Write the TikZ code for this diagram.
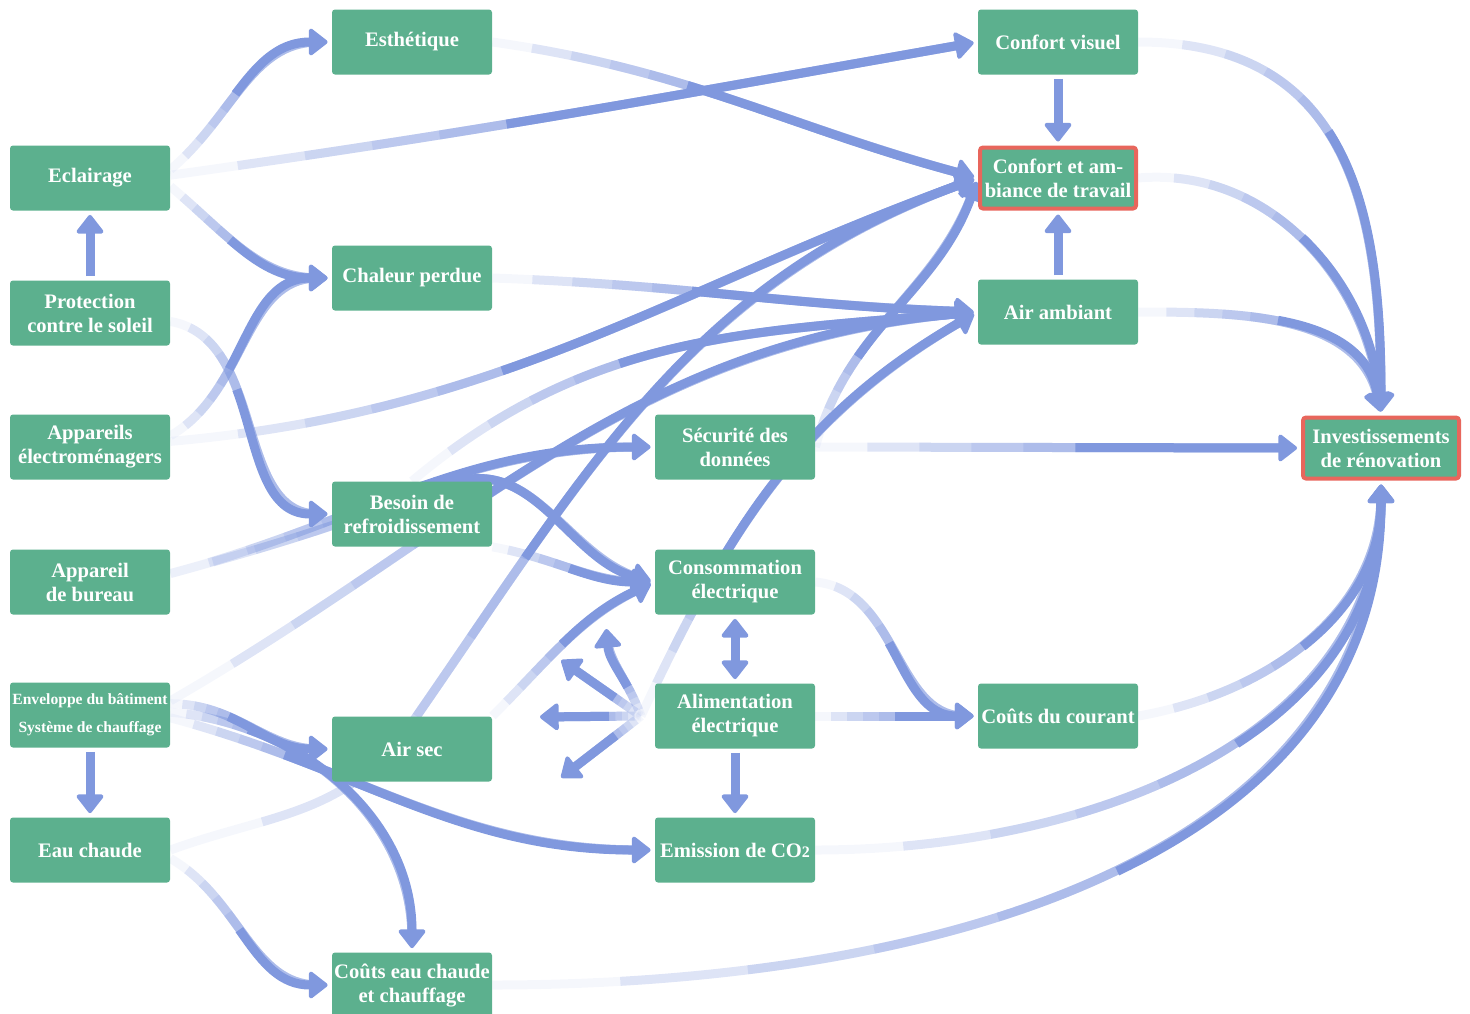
\documentclass[tikz,border=0pt]{standalone}
\usepackage{fontspec}
\setmainfont{Liberation Serif}
\usetikzlibrary{arrows.meta,backgrounds}

\definecolor{boxgreen}{RGB}{92,176,142}
\definecolor{keyred}{RGB}{232,102,92}
\definecolor{flowblue}{RGB}{128,152,222}

\tikzset{
  box/.style={rectangle, rounded corners=1.5pt, fill=boxgreen, text=white,
    font=\fontsize{10.3}{12}\selectfont\bfseries, align=center,
    minimum width=80pt, minimum height=32.5pt, inner sep=1pt},
  keybox/.style={box, draw=keyred, line width=2pt, minimum width=78pt, minimum height=30.5pt},
  flow/.code={\pgfmathsetlengthmacro\fadeone{#1/5}%
    \pgfmathsetlengthmacro\fadetwo{2*#1/5}%
    \pgfmathsetlengthmacro\fadethree{3*#1/5}%
    \pgfmathsetlengthmacro\fadefour{4*#1/5}%
    \pgfmathsetlengthmacro\fadefive{#1}%
    \tikzset{fadedflow}},
  flow/.default=60pt,
  fadedflow/.style={line width=4.5pt, draw=flowblue, draw opacity=.08, shorten >=7pt,
    postaction={draw=flowblue, draw opacity=.2, dash pattern=on 2000pt off \fadeone, dash phase=2000pt},
    postaction={draw=flowblue, draw opacity=.2, dash pattern=on 2000pt off \fadetwo, dash phase=2000pt},
    postaction={draw=flowblue, draw opacity=.2, dash pattern=on 2000pt off \fadethree, dash phase=2000pt},
    postaction={draw=flowblue, draw opacity=.25, dash pattern=on 2000pt off \fadefour, dash phase=2000pt},
    postaction={draw=flowblue, draw opacity=1, dash pattern=on 2000pt off \fadefive, dash phase=2000pt, shorten >=2pt, ->}},
  stub/.style={line width=4.5pt, draw=flowblue, shorten >=2pt, shorten <=2pt},
}

\begin{document}
\begin{tikzpicture}[x=0.5pt, y=0.5pt, >={Triangle[width=15pt, length=10pt, line width=2pt, round]}]
  \useasboundingbox (0,0) rectangle (1470,-1013);

  \node[box] (Ecl) at (90,-178) {Eclairage};
  \node[box] (Prot) at (90,-313) {Protection\\contre le soleil};
  \node[box] (Menag) at (90,-447) {Appareils\\électroménagers};
  \node[box] (Bur) at (90,-582) {Appareil\\de bureau};
  \node[box, font=\fontsize{7.8}{14}\selectfont\bfseries] (Env) at (90,-715) {Enveloppe du bâtiment\\Système de chauffage};
  \node[box] (Eau) at (90,-850) {Eau chaude};

  \node[box] (Esth) at (412,-42) {Esthétique};
  \node[box] (Chal) at (412,-278) {Chaleur perdue};
  \node[box] (Refr) at (412,-514) {Besoin de\\refroidissement};
  \node[box] (Sec) at (412,-749) {Air sec};
  \node[box] (CoutEau) at (412,-985) {Coûts eau chaude\\et chauffage};

  \node[box] (Data) at (735,-447) {Sécurité des\\données};
  \node[box] (Conso) at (735,-582) {Consommation\\électrique};
  \node[box] (Alim) at (735,-716) {Alimentation\\électrique};
  \node[box] (CO) at (735,-850) {Emission de CO{\footnotesize 2}};

  \node[box] (Visuel) at (1058,-42) {Confort visuel};
  \node[keybox] (Travail) at (1058,-178) {Confort et am-\\biance de travail};
  \node[box] (Air) at (1058,-312) {Air ambiant};
  \node[box] (CoutCour) at (1058,-716) {Coûts du courant};

  \node[keybox] (Inv) at (1381,-448) {Investissements\\de rénovation};

  \coordinate (Hub) at (641,-716);
  \coordinate (FanA) at (606,-625);
  \coordinate (FanB) at (558,-658);
  \coordinate (FanC) at (536,-717);
  \coordinate (FanD) at (558,-780);

  \begin{pgfonlayer}{background}
    \draw[flow=50pt] (Ecl.6) to[out=40, in=180] (Esth.west);
    \draw[flow=170pt] (Ecl.2) to[out=8, in=190] (Visuel.west);
    \draw[flow=40pt] (Ecl.-6) to[out=-40, in=180] (Chal.west);
    \draw[stub, ->] (Prot) -- (Ecl);
    \draw[flow=50pt] (Prot.-6) to[out=-10, in=180] (Refr.west);
    \draw[flow=45pt] (Menag.8) to[out=30, in=180] (Chal.west);
    \draw[flow=170pt] (Menag.4) to[out=5, in=200] (Travail.west);
    \draw[flow=100pt] (Bur.6) to[out=15, in=180] (Data.west);
    \draw[flow=110pt] (Bur.6) to[out=15, in=200] (450,-484) to[out=20, in=165] (Conso.west);

    \draw[flow=100pt] (Esth.east) to[out=-8, in=165] (Travail.west);
    \draw[flow=100pt] (Chal.east) to[out=-2, in=178] (Air.west);
    \draw[flow=120pt] (Refr.north) to[out=40, in=185] (Air.west);
    \draw[flow=40pt] (Refr.south east) to[out=-10, in=180] (Conso.west);
    \draw[flow=50pt] (Sec.north east) to[out=45, in=205] (Conso.west);

    \draw[stub, ->] (Env) -- (Eau);
    \draw[flow=30pt] (Env.8) to[out=0, in=180] (Sec.west);
    \draw[flow=40pt] (Env.2) to[out=-5, in=90] (CoutEau.north);
    \draw[flow=60pt] (Env.-2) to[out=-15, in=180] (CO.west);
    \draw[flow=180pt] (Env.10) to[out=30, in=185] (Air.west);
    \draw[flow=50pt] (Eau.-6) to[out=-30, in=180] (CoutEau.west);
    \draw[flow=240pt] (Eau.east) to[out=20, in=230] (400,-740) to[out=55, in=200] (Travail.west);

    \draw[flow=50pt] (Data.east) to[out=75, in=250] (Travail.west);
    \draw[flow=130pt] (Data.east) -- (Inv.west);
    \draw[flow=90pt] (Hub) to[out=65, in=210] (Air.west);
    \draw[flow=50pt] (Conso.east) to[out=-5, in=180] (CoutCour.west);
    \draw[flow=40pt] (Alim) -- (CoutCour);
    \draw[stub, <->] (Conso) -- (Alim);
    \draw[stub, ->] (Alim) -- (CO);
    \draw[flow=16pt] (Hub) to[out=110, in=-85] (FanA);
    \draw[flow=16pt] (Hub) -- (FanB);
    \draw[flow=16pt] (Hub) -- (FanC);
    \draw[flow=16pt] (Hub) -- (FanD);

    \draw[stub, ->] (Visuel) -- (Travail);
    \draw[stub, ->] (Air) -- (Travail);
    \draw[flow=110pt] (Visuel.east) to[out=0, in=90, looseness=1.2] (Inv.north);
    \draw[flow=90pt] (Travail.east) to[out=5, in=95] (Inv.north);
    \draw[flow=70pt] (Air.east) to[out=0, in=100] (Inv.north);
    \draw[flow=220pt] (CO.east) to[out=0, in=-90] (Inv.south);
    \draw[flow=90pt] (CoutCour.east) to[out=10, in=-90] (Inv.south);
    \draw[flow=320pt] (CoutEau.east) to[out=0, in=-90] (Inv.south);
  \end{pgfonlayer}
\end{tikzpicture}
\end{document}
